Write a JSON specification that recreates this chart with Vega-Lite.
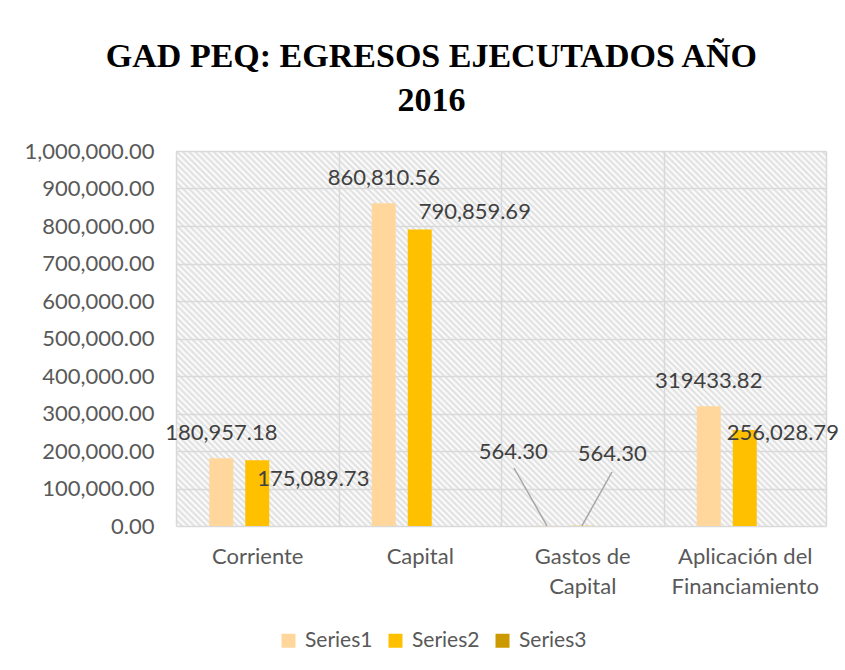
{
  "$schema": "https://vega.github.io/schema/vega-lite/v6.json",
  "width": 650,
  "height": 375,
  "autosize": {"type": "none"},
  "padding": {"left": 176, "top": 151, "right": 19, "bottom": 144},
  "background": "#ffffff",
  "title": {
    "text": ["GAD PEQ: EGRESOS EJECUTADOS AÑO", "2016"],
    "font": "Liberation Serif",
    "fontSize": 34,
    "fontWeight": "bold",
    "color": "#000000",
    "lineHeight": 44,
    "anchor": "middle",
    "frame": "bounds",
    "baseline": "bottom",
    "offset": -12
  },
  "view": {
    "stroke": null,
    "fill": {
      "gradient": "linear",
      "x1": 0, "y1": 1, "x2": 1.183, "y2": 0.317,
      "stops": [
        {"offset":0,"color":"#ddd"},{"offset":0.003,"color":"#fff"},{"offset":0.006,"color":"#ddd"},{"offset":0.009,"color":"#fff"},{"offset":0.012,"color":"#ddd"},{"offset":0.015,"color":"#fff"},{"offset":0.018,"color":"#ddd"},{"offset":0.021,"color":"#fff"},{"offset":0.024,"color":"#ddd"},{"offset":0.027,"color":"#fff"},
        {"offset":0.03,"color":"#ddd"},{"offset":0.033,"color":"#fff"},{"offset":0.036,"color":"#ddd"},{"offset":0.039,"color":"#fff"},{"offset":0.042,"color":"#ddd"},{"offset":0.045,"color":"#fff"},{"offset":0.048,"color":"#ddd"},{"offset":0.051,"color":"#fff"},{"offset":0.054,"color":"#ddd"},{"offset":0.057,"color":"#fff"},
        {"offset":0.06,"color":"#ddd"},{"offset":0.063,"color":"#fff"},{"offset":0.066,"color":"#ddd"},{"offset":0.069,"color":"#fff"},{"offset":0.072,"color":"#ddd"},{"offset":0.075,"color":"#fff"},{"offset":0.078,"color":"#ddd"},{"offset":0.081,"color":"#fff"},{"offset":0.084,"color":"#ddd"},{"offset":0.087,"color":"#fff"},
        {"offset":0.09,"color":"#ddd"},{"offset":0.093,"color":"#fff"},{"offset":0.096,"color":"#ddd"},{"offset":0.099,"color":"#fff"},{"offset":0.102,"color":"#ddd"},{"offset":0.105,"color":"#fff"},{"offset":0.108,"color":"#ddd"},{"offset":0.111,"color":"#fff"},{"offset":0.114,"color":"#ddd"},{"offset":0.117,"color":"#fff"},
        {"offset":0.12,"color":"#ddd"},{"offset":0.123,"color":"#fff"},{"offset":0.126,"color":"#ddd"},{"offset":0.129,"color":"#fff"},{"offset":0.132,"color":"#ddd"},{"offset":0.135,"color":"#fff"},{"offset":0.138,"color":"#ddd"},{"offset":0.141,"color":"#fff"},{"offset":0.144,"color":"#ddd"},{"offset":0.147,"color":"#fff"},
        {"offset":0.15,"color":"#ddd"},{"offset":0.153,"color":"#fff"},{"offset":0.156,"color":"#ddd"},{"offset":0.159,"color":"#fff"},{"offset":0.162,"color":"#ddd"},{"offset":0.165,"color":"#fff"},{"offset":0.168,"color":"#ddd"},{"offset":0.171,"color":"#fff"},{"offset":0.174,"color":"#ddd"},{"offset":0.177,"color":"#fff"},
        {"offset":0.18,"color":"#ddd"},{"offset":0.183,"color":"#fff"},{"offset":0.186,"color":"#ddd"},{"offset":0.189,"color":"#fff"},{"offset":0.192,"color":"#ddd"},{"offset":0.195,"color":"#fff"},{"offset":0.198,"color":"#ddd"},{"offset":0.201,"color":"#fff"},{"offset":0.204,"color":"#ddd"},{"offset":0.207,"color":"#fff"},
        {"offset":0.21,"color":"#ddd"},{"offset":0.213,"color":"#fff"},{"offset":0.216,"color":"#ddd"},{"offset":0.219,"color":"#fff"},{"offset":0.222,"color":"#ddd"},{"offset":0.225,"color":"#fff"},{"offset":0.228,"color":"#ddd"},{"offset":0.231,"color":"#fff"},{"offset":0.234,"color":"#ddd"},{"offset":0.237,"color":"#fff"},
        {"offset":0.24,"color":"#ddd"},{"offset":0.243,"color":"#fff"},{"offset":0.246,"color":"#ddd"},{"offset":0.249,"color":"#fff"},{"offset":0.252,"color":"#ddd"},{"offset":0.255,"color":"#fff"},{"offset":0.258,"color":"#ddd"},{"offset":0.261,"color":"#fff"},{"offset":0.264,"color":"#ddd"},{"offset":0.267,"color":"#fff"},
        {"offset":0.27,"color":"#ddd"},{"offset":0.273,"color":"#fff"},{"offset":0.276,"color":"#ddd"},{"offset":0.279,"color":"#fff"},{"offset":0.282,"color":"#ddd"},{"offset":0.285,"color":"#fff"},{"offset":0.288,"color":"#ddd"},{"offset":0.291,"color":"#fff"},{"offset":0.294,"color":"#ddd"},{"offset":0.297,"color":"#fff"},
        {"offset":0.3,"color":"#ddd"},{"offset":0.303,"color":"#fff"},{"offset":0.306,"color":"#ddd"},{"offset":0.309,"color":"#fff"},{"offset":0.312,"color":"#ddd"},{"offset":0.315,"color":"#fff"},{"offset":0.318,"color":"#ddd"},{"offset":0.321,"color":"#fff"},{"offset":0.324,"color":"#ddd"},{"offset":0.327,"color":"#fff"},
        {"offset":0.33,"color":"#ddd"},{"offset":0.333,"color":"#fff"},{"offset":0.336,"color":"#ddd"},{"offset":0.339,"color":"#fff"},{"offset":0.342,"color":"#ddd"},{"offset":0.345,"color":"#fff"},{"offset":0.348,"color":"#ddd"},{"offset":0.351,"color":"#fff"},{"offset":0.354,"color":"#ddd"},{"offset":0.357,"color":"#fff"},
        {"offset":0.36,"color":"#ddd"},{"offset":0.363,"color":"#fff"},{"offset":0.366,"color":"#ddd"},{"offset":0.369,"color":"#fff"},{"offset":0.372,"color":"#ddd"},{"offset":0.375,"color":"#fff"},{"offset":0.378,"color":"#ddd"},{"offset":0.381,"color":"#fff"},{"offset":0.384,"color":"#ddd"},{"offset":0.387,"color":"#fff"},
        {"offset":0.39,"color":"#ddd"},{"offset":0.393,"color":"#fff"},{"offset":0.396,"color":"#ddd"},{"offset":0.399,"color":"#fff"},{"offset":0.402,"color":"#ddd"},{"offset":0.405,"color":"#fff"},{"offset":0.408,"color":"#ddd"},{"offset":0.411,"color":"#fff"},{"offset":0.414,"color":"#ddd"},{"offset":0.417,"color":"#fff"},
        {"offset":0.42,"color":"#ddd"},{"offset":0.423,"color":"#fff"},{"offset":0.426,"color":"#ddd"},{"offset":0.429,"color":"#fff"},{"offset":0.432,"color":"#ddd"},{"offset":0.435,"color":"#fff"},{"offset":0.438,"color":"#ddd"},{"offset":0.441,"color":"#fff"},{"offset":0.444,"color":"#ddd"},{"offset":0.447,"color":"#fff"},
        {"offset":0.45,"color":"#ddd"},{"offset":0.453,"color":"#fff"},{"offset":0.456,"color":"#ddd"},{"offset":0.459,"color":"#fff"},{"offset":0.462,"color":"#ddd"},{"offset":0.465,"color":"#fff"},{"offset":0.468,"color":"#ddd"},{"offset":0.471,"color":"#fff"},{"offset":0.474,"color":"#ddd"},{"offset":0.477,"color":"#fff"},
        {"offset":0.48,"color":"#ddd"},{"offset":0.483,"color":"#fff"},{"offset":0.486,"color":"#ddd"},{"offset":0.489,"color":"#fff"},{"offset":0.492,"color":"#ddd"},{"offset":0.495,"color":"#fff"},{"offset":0.498,"color":"#ddd"},{"offset":0.501,"color":"#fff"},{"offset":0.504,"color":"#ddd"},{"offset":0.507,"color":"#fff"},
        {"offset":0.51,"color":"#ddd"},{"offset":0.513,"color":"#fff"},{"offset":0.516,"color":"#ddd"},{"offset":0.519,"color":"#fff"},{"offset":0.522,"color":"#ddd"},{"offset":0.525,"color":"#fff"},{"offset":0.528,"color":"#ddd"},{"offset":0.531,"color":"#fff"},{"offset":0.534,"color":"#ddd"},{"offset":0.537,"color":"#fff"},
        {"offset":0.54,"color":"#ddd"},{"offset":0.543,"color":"#fff"},{"offset":0.546,"color":"#ddd"},{"offset":0.549,"color":"#fff"},{"offset":0.552,"color":"#ddd"},{"offset":0.555,"color":"#fff"},{"offset":0.558,"color":"#ddd"},{"offset":0.561,"color":"#fff"},{"offset":0.564,"color":"#ddd"},{"offset":0.567,"color":"#fff"},
        {"offset":0.57,"color":"#ddd"},{"offset":0.573,"color":"#fff"},{"offset":0.576,"color":"#ddd"},{"offset":0.579,"color":"#fff"},{"offset":0.582,"color":"#ddd"},{"offset":0.585,"color":"#fff"},{"offset":0.588,"color":"#ddd"},{"offset":0.591,"color":"#fff"},{"offset":0.594,"color":"#ddd"},{"offset":0.597,"color":"#fff"},
        {"offset":0.6,"color":"#ddd"},{"offset":0.603,"color":"#fff"},{"offset":0.606,"color":"#ddd"},{"offset":0.609,"color":"#fff"},{"offset":0.612,"color":"#ddd"},{"offset":0.615,"color":"#fff"},{"offset":0.618,"color":"#ddd"},{"offset":0.621,"color":"#fff"},{"offset":0.624,"color":"#ddd"},{"offset":0.627,"color":"#fff"},
        {"offset":0.63,"color":"#ddd"},{"offset":0.633,"color":"#fff"},{"offset":0.636,"color":"#ddd"},{"offset":0.639,"color":"#fff"},{"offset":0.642,"color":"#ddd"},{"offset":0.645,"color":"#fff"},{"offset":0.648,"color":"#ddd"},{"offset":0.651,"color":"#fff"},{"offset":0.654,"color":"#ddd"},{"offset":0.657,"color":"#fff"},
        {"offset":0.66,"color":"#ddd"},{"offset":0.663,"color":"#fff"},{"offset":0.666,"color":"#ddd"},{"offset":0.669,"color":"#fff"},{"offset":0.672,"color":"#ddd"},{"offset":0.675,"color":"#fff"},{"offset":0.678,"color":"#ddd"},{"offset":0.681,"color":"#fff"},{"offset":0.684,"color":"#ddd"},{"offset":0.687,"color":"#fff"},
        {"offset":0.69,"color":"#ddd"},{"offset":0.693,"color":"#fff"},{"offset":0.696,"color":"#ddd"},{"offset":0.699,"color":"#fff"},{"offset":0.702,"color":"#ddd"},{"offset":0.705,"color":"#fff"},{"offset":0.708,"color":"#ddd"},{"offset":0.711,"color":"#fff"},{"offset":0.714,"color":"#ddd"},{"offset":0.717,"color":"#fff"},
        {"offset":0.72,"color":"#ddd"},{"offset":0.723,"color":"#fff"},{"offset":0.726,"color":"#ddd"},{"offset":0.729,"color":"#fff"},{"offset":0.732,"color":"#ddd"},{"offset":0.735,"color":"#fff"},{"offset":0.738,"color":"#ddd"},{"offset":0.741,"color":"#fff"},{"offset":0.744,"color":"#ddd"},{"offset":0.747,"color":"#fff"},
        {"offset":0.75,"color":"#ddd"},{"offset":0.753,"color":"#fff"},{"offset":0.756,"color":"#ddd"},{"offset":0.759,"color":"#fff"},{"offset":0.762,"color":"#ddd"},{"offset":0.765,"color":"#fff"},{"offset":0.768,"color":"#ddd"},{"offset":0.771,"color":"#fff"},{"offset":0.774,"color":"#ddd"},{"offset":0.777,"color":"#fff"},
        {"offset":0.78,"color":"#ddd"},{"offset":0.783,"color":"#fff"},{"offset":0.786,"color":"#ddd"},{"offset":0.789,"color":"#fff"},{"offset":0.792,"color":"#ddd"},{"offset":0.795,"color":"#fff"},{"offset":0.798,"color":"#ddd"},{"offset":0.801,"color":"#fff"},{"offset":0.804,"color":"#ddd"},{"offset":0.807,"color":"#fff"},
        {"offset":0.81,"color":"#ddd"},{"offset":0.813,"color":"#fff"},{"offset":0.816,"color":"#ddd"},{"offset":0.819,"color":"#fff"},{"offset":0.822,"color":"#ddd"},{"offset":0.825,"color":"#fff"},{"offset":0.828,"color":"#ddd"},{"offset":0.831,"color":"#fff"},{"offset":0.834,"color":"#ddd"},{"offset":0.837,"color":"#fff"},
        {"offset":0.84,"color":"#ddd"},{"offset":0.843,"color":"#fff"},{"offset":0.846,"color":"#ddd"},{"offset":0.849,"color":"#fff"},{"offset":0.852,"color":"#ddd"},{"offset":0.855,"color":"#fff"},{"offset":0.858,"color":"#ddd"},{"offset":0.861,"color":"#fff"},{"offset":0.864,"color":"#ddd"},{"offset":0.867,"color":"#fff"},
        {"offset":0.87,"color":"#ddd"},{"offset":0.873,"color":"#fff"},{"offset":0.876,"color":"#ddd"},{"offset":0.879,"color":"#fff"},{"offset":0.882,"color":"#ddd"},{"offset":0.885,"color":"#fff"},{"offset":0.888,"color":"#ddd"},{"offset":0.891,"color":"#fff"},{"offset":0.894,"color":"#ddd"},{"offset":0.897,"color":"#fff"},
        {"offset":0.9,"color":"#ddd"},{"offset":0.903,"color":"#fff"},{"offset":0.906,"color":"#ddd"},{"offset":0.909,"color":"#fff"},{"offset":0.912,"color":"#ddd"},{"offset":0.915,"color":"#fff"},{"offset":0.918,"color":"#ddd"},{"offset":0.921,"color":"#fff"},{"offset":0.924,"color":"#ddd"},{"offset":0.927,"color":"#fff"},
        {"offset":0.93,"color":"#ddd"},{"offset":0.933,"color":"#fff"},{"offset":0.936,"color":"#ddd"},{"offset":0.939,"color":"#fff"},{"offset":0.942,"color":"#ddd"},{"offset":0.945,"color":"#fff"},{"offset":0.948,"color":"#ddd"},{"offset":0.951,"color":"#fff"},{"offset":0.954,"color":"#ddd"},{"offset":0.957,"color":"#fff"},
        {"offset":0.96,"color":"#ddd"},{"offset":0.963,"color":"#fff"},{"offset":0.966,"color":"#ddd"},{"offset":0.969,"color":"#fff"},{"offset":0.972,"color":"#ddd"},{"offset":0.975,"color":"#fff"},{"offset":0.978,"color":"#ddd"},{"offset":0.981,"color":"#fff"},{"offset":0.984,"color":"#ddd"},{"offset":0.987,"color":"#fff"},
        {"offset":0.99,"color":"#ddd"},{"offset":0.993,"color":"#fff"},{"offset":0.996,"color":"#ddd"},{"offset":0.999,"color":"#fff"}
      ]
    }
  },
  "datasets": {
    "egresos": [
      {"categoria": "Corriente", "serie": "Series1", "valor": 180957.18, "etiqueta": "180,957.18"},
      {"categoria": "Corriente", "serie": "Series2", "valor": 175089.73, "etiqueta": "175,089.73"},
      {"categoria": "Corriente", "serie": "Series3", "valor": 0, "etiqueta": ""},
      {"categoria": "Capital", "serie": "Series1", "valor": 860810.56, "etiqueta": "860,810.56"},
      {"categoria": "Capital", "serie": "Series2", "valor": 790859.69, "etiqueta": "790,859.69"},
      {"categoria": "Capital", "serie": "Series3", "valor": 0, "etiqueta": ""},
      {"categoria": "Gastos de Capital", "serie": "Series1", "valor": 564.30, "etiqueta": "564.30"},
      {"categoria": "Gastos de Capital", "serie": "Series2", "valor": 564.30, "etiqueta": "564.30"},
      {"categoria": "Gastos de Capital", "serie": "Series3", "valor": 0, "etiqueta": ""},
      {"categoria": "Aplicación del Financiamiento", "serie": "Series1", "valor": 319433.82, "etiqueta": "319433.82"},
      {"categoria": "Aplicación del Financiamiento", "serie": "Series2", "valor": 256028.79, "etiqueta": "256,028.79"},
      {"categoria": "Aplicación del Financiamiento", "serie": "Series3", "valor": 0, "etiqueta": ""}
    ]
  },
  "data": {"name": "egresos"},
  "encoding": {
    "x": {
      "field": "categoria",
      "type": "nominal",
      "sort": ["Corriente", "Capital", "Gastos de Capital", "Aplicación del Financiamiento"],
      "scale": {"paddingInner": 0, "paddingOuter": 0},
      "axis": {
        "title": null,
        "labelAngle": 0,
        "ticks": false,
        "domain": false,
        "grid": true,
        "tickBand": "extent",
        "gridColor": "#d9d9d9",
        "gridWidth": 1.5,
        "labelFont": "Lato",
        "labelFontSize": 22,
        "labelColor": "#595959",
        "labelPadding": 20,
        "labelLineHeight": 30,
        "labelLimit": 0,
        "labelExpr": "datum.label == 'Gastos de Capital' ? ['Gastos de', 'Capital'] : datum.label == 'Aplicación del Financiamiento' ? ['Aplicación del', 'Financiamiento'] : datum.label"
      }
    },
    "xOffset": {
      "field": "serie",
      "type": "nominal",
      "sort": ["Series1", "Series2", "Series3"],
      "scale": {"paddingInner": 0.3333, "paddingOuter": 0.924}
    },
    "y": {
      "field": "valor",
      "type": "quantitative",
      "scale": {"domain": [0, 1000000], "nice": false},
      "axis": {
        "title": null,
        "values": [0, 100000, 200000, 300000, 400000, 500000, 600000, 700000, 800000, 900000, 1000000],
        "format": ",.2f",
        "ticks": false,
        "domain": false,
        "gridColor": "#d9d9d9",
        "gridWidth": 1.5,
        "labelFont": "Lato",
        "labelFontSize": 22,
        "labelColor": "#595959",
        "labelPadding": 22
      }
    }
  },
  "layer": [
    {
      "mark": {"type": "bar"},
      "encoding": {
        "color": {
          "field": "serie",
          "type": "nominal",
          "scale": {"domain": ["Series1", "Series2", "Series3"], "range": ["#FFD79D", "#FFC000", "#CC9A00"]},
          "legend": {
            "title": null,
            "orient": "none",
            "legendX": 102,
            "legendY": 479,
            "direction": "horizontal",
            "symbolType": "square",
            "symbolSize": 196,
            "symbolStrokeWidth": 0,
            "labelFont": "Lato",
            "labelFontSize": 21,
            "labelColor": "#595959",
            "labelOffset": 6,
            "columnPadding": 12,
            "padding": 0
          }
        }
      }
    },
    {
      "transform": [{"filter": "datum.serie == 'Series1' && datum.categoria != 'Gastos de Capital'"}],
      "mark": {"type": "text", "font": "Lato", "fontSize": 22, "color": "#404040", "baseline": "middle", "dy": -25},
      "encoding": {"text": {"field": "etiqueta"}}
    },
    {
      "transform": [{"filter": "datum.serie == 'Series2' && datum.categoria == 'Corriente'"}],
      "mark": {"type": "text", "font": "Lato", "fontSize": 22, "color": "#404040", "baseline": "middle", "dx": 56, "dy": 19},
      "encoding": {"text": {"field": "etiqueta"}}
    },
    {
      "transform": [{"filter": "datum.serie == 'Series2' && datum.categoria == 'Capital'"}],
      "mark": {"type": "text", "font": "Lato", "fontSize": 22, "color": "#404040", "baseline": "middle", "dx": 55, "dy": -17},
      "encoding": {"text": {"field": "etiqueta"}}
    },
    {
      "transform": [{"filter": "datum.serie == 'Series2' && datum.categoria == 'Aplicación del Financiamiento'"}],
      "mark": {"type": "text", "font": "Lato", "fontSize": 22, "color": "#404040", "baseline": "middle", "dx": 38, "dy": 3},
      "encoding": {"text": {"field": "etiqueta"}}
    },
    {
      "transform": [{"filter": "datum.serie == 'Series1' && datum.categoria == 'Gastos de Capital'"}],
      "mark": {"type": "text", "font": "Lato", "fontSize": 22, "color": "#404040", "baseline": "middle", "dx": -33, "dy": -74},
      "encoding": {"text": {"field": "etiqueta"}}
    },
    {
      "transform": [{"filter": "datum.serie == 'Series2' && datum.categoria == 'Gastos de Capital'"}],
      "mark": {"type": "text", "font": "Lato", "fontSize": 22, "color": "#404040", "baseline": "middle", "dx": 30, "dy": -72},
      "encoding": {"text": {"field": "etiqueta"}}
    },
    {
      "transform": [{"filter": "datum.serie == 'Series1' && datum.categoria == 'Gastos de Capital'"}],
      "mark": {"type": "rule", "color": "#a6a6a6", "strokeWidth": 1.5},
      "encoding": {
        "x": {"field": "categoria", "type": "nominal", "sort": ["Corriente", "Capital", "Gastos de Capital", "Aplicación del Financiamiento"], "bandPosition": 0.283},
        "x2": {"field": "categoria", "bandPosition": 0.08},
        "xOffset": null,
        "y2": {"datum": 154667}
      }
    },
    {
      "transform": [{"filter": "datum.serie == 'Series2' && datum.categoria == 'Gastos de Capital'"}],
      "mark": {"type": "rule", "color": "#a6a6a6", "strokeWidth": 1.5},
      "encoding": {
        "x": {"field": "categoria", "type": "nominal", "sort": ["Corriente", "Capital", "Gastos de Capital", "Aplicación del Financiamiento"], "bandPosition": 0.498},
        "x2": {"field": "categoria", "bandPosition": 0.683},
        "xOffset": null,
        "y2": {"datum": 144000}
      }
    }
  ]
}
